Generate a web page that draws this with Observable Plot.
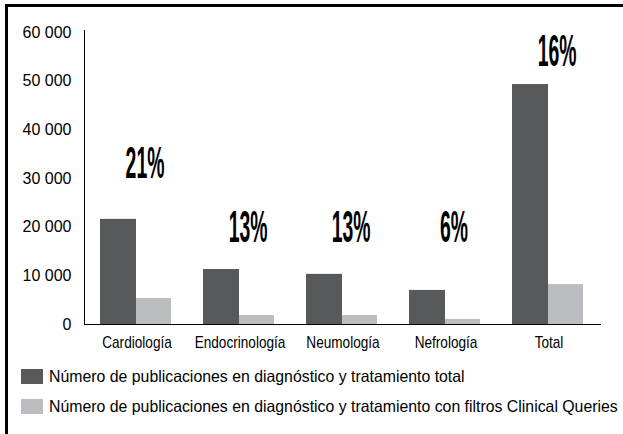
<!DOCTYPE html>
<html>
<head>
<meta charset="utf-8">
<script src="https://cdn.jsdelivr.net/npm/d3@7"></script>
<script src="https://cdn.jsdelivr.net/npm/@observablehq/plot@0.6"></script>
<style>
  html, body { margin: 0; padding: 0; background: #fff; overflow: hidden; width: 623px; height: 434px; }
  #wrap { position: relative; width: 623px; height: 434px; }
  #border { position: absolute; left: 5px; top: 4px; width: 700px; height: 500px;
            border-left: 3px solid #000; border-top: 3px solid #000; pointer-events: none; }
  #chart { position: absolute; left: 0; top: 0; }
  #legend { position: absolute; left: 21px; top: 369px; font-family: "Liberation Sans", Arial, sans-serif; font-size: 16.5px; color: #000; }
  .row { display: flex; align-items: center; height: 15px; margin-bottom: 15px; white-space: nowrap; }
  .sw { width: 22px; height: 15px; flex: none; }
  .lab { margin-left: 6px; display: inline-block; transform: scaleX(0.96); transform-origin: left center; }
</style>
</head>
<body>
<div id="wrap">
  <div id="chart"></div>
  <div id="legend"></div>
  <div id="border"></div>
</div>
<script>
const categories = ["Cardiología", "Endocrinología", "Neumología", "Nefrología", "Total"];
const totalPubs = [21600, 11300, 10300, 7000, 49300];
const filteredPubs = [5350, 1850, 1850, 1050, 8200];
const percentLabels = ["21%", "13%", "13%", "6%", "16%"];
const percentLabelY = [33000, 19800, 19900, 19900, 55900];
const yTicks = [0, 10000, 20000, 30000, 40000, 50000, 60000];
const seriesNames = [
  "Número de publicaciones en diagnóstico y tratamiento total",
  "Número de publicaciones en diagnóstico y tratamiento con filtros Clinical Queries"
];
const seriesColors = ["#58595b", "#bcbdc0"];

const data = categories.map((c, i) => ({
  category: c, total: totalPubs[i], filtered: filteredPubs[i],
  pct: percentLabels[i], pctY: percentLabelY[i]
}));

const fmt = d => d3.format(",")(d).replace(/,/g, " ");

const chart = Plot.plot({
  width: 623,
  height: 360,
  marginLeft: 84,
  marginRight: 23,
  marginTop: 30,
  marginBottom: 36,
  style: { fontFamily: "\"Liberation Sans\", Arial, sans-serif", fontSize: "16px", color: "#000", background: "transparent", overflow: "visible" },
  x: { domain: categories, padding: 0, label: null, tickSize: 0, tickPadding: 11, line: true },
  y: { domain: [0, 60400], ticks: yTicks, tickFormat: fmt, tickSize: 0, tickPadding: 13, label: null, line: true },
  marks: [
    Plot.barY(data, { x: "category", y: "total", fill: seriesColors[0], insetLeft: 15, insetRight: 52 }),
    Plot.barY(data, { x: "category", y: "filtered", fill: seriesColors[1], insetLeft: 51, insetRight: 17 }),
    Plot.text(data, { x: "category", y: "pctY", text: "pct", dx: 8, fontWeight: "bold", fontSize: 44, fill: "#000" })
  ]
});

document.getElementById("chart").append(chart);

chart.querySelectorAll("text").forEach(t => {
  const s = t.textContent;
  if (categories.includes(s)) {
    t.setAttribute("font-size", "17");
    const w = t.getComputedTextLength();
    t.setAttribute("textLength", (w * 0.8).toFixed(2));
    t.setAttribute("lengthAdjust", "spacingAndGlyphs");
  } else if (percentLabels.includes(s)) {
    const w = t.getComputedTextLength();
    t.setAttribute("textLength", (w * 0.44).toFixed(2));
    t.setAttribute("lengthAdjust", "spacingAndGlyphs");
  }
});

const legend = document.getElementById("legend");
seriesNames.forEach((name, i) => {
  const row = document.createElement("div");
  row.className = "row";
  const sw = document.createElement("span");
  sw.className = "sw";
  sw.style.background = seriesColors[i];
  const lab = document.createElement("span");
  lab.className = "lab";
  lab.textContent = name;
  row.append(sw, lab);
  legend.append(row);
});
</script>
</body>
</html>
